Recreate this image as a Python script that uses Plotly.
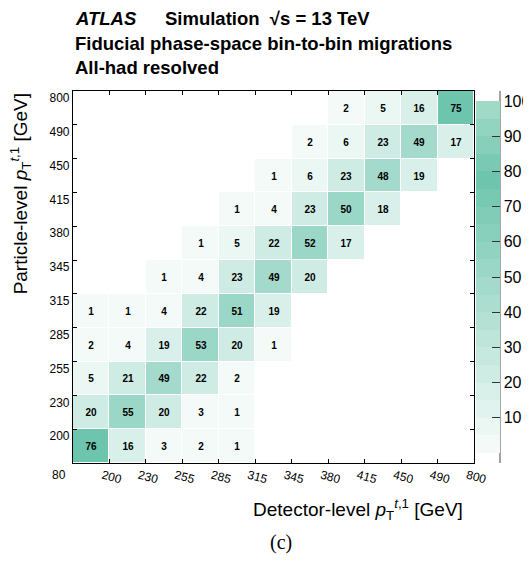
import plotly.graph_objects as go

# bin edges (shown as tick labels), uniform display bins
edge_labels = ["80", "200", "230", "255", "285", "315", "345", "380", "415", "450", "490", "800"]
n_bins = len(edge_labels) - 1

# migration matrix [%]: rows = particle-level bin (bottom to top), cols = detector-level bin
row0 = [76, 16, 3, 2, 1, None, None, None, None, None, None]
row1 = [20, 55, 20, 3, 1, None, None, None, None, None, None]
row2 = [5, 21, 49, 22, 2, None, None, None, None, None, None]
row3 = [2, 4, 19, 53, 20, 1, None, None, None, None, None]
row4 = [1, 1, 4, 22, 51, 19, None, None, None, None, None]
row5 = [None, None, 1, 4, 23, 49, 20, None, None, None, None]
row6 = [None, None, None, 1, 5, 22, 52, 17, None, None, None]
row7 = [None, None, None, None, 1, 4, 23, 50, 18, None, None]
row8 = [None, None, None, None, None, 1, 6, 23, 48, 19, None]
row9 = [None, None, None, None, None, None, 2, 6, 23, 49, 17]
row10 = [None, None, None, None, None, None, None, 2, 5, 16, 75]
z = [row0, row1, row2, row3, row4, row5, row6, row7, row8, row9, row10]

colorbar_ticks = [10, 20, 30, 40, 50, 60, 70, 80, 90, 100]

# discrete palette: 20 bands of 5 %
band_colors = [
    "#f3faf8", "#eaf7f3", "#e1f3ee", "#d8f0e9", "#cfece4",
    "#c6e8df", "#bee5da", "#b5e1d5", "#acded0", "#a3dacb",
    "#9ad7c6", "#91d3c1", "#89d0bc", "#80ccb7", "#77c9b2",
    "#6ec5ad", "#7acab3", "#87cfb9", "#93d4c0", "#a0d9c6",
]
colorscale = []
nb = len(band_colors)
for i, c in enumerate(band_colors):
    colorscale.append([i / nb, c])
    colorscale.append([(i + 1) / nb, c])

xs = list(range(n_bins))
ys = list(range(n_bins))
text = [["" if v is None else str(v) for v in r] for r in z]

fig = go.Figure()
fig.add_trace(go.Heatmap(
    x=xs, y=ys, z=z, text=text, texttemplate="%{text}",
    textfont=dict(family="Liberation Sans", size=10, color="black", weight=700),
    colorscale=colorscale, zmin=0, zmax=100, xgap=1, ygap=1,
    hoverongaps=False,
    colorbar=dict(
        x=1.005, xanchor="left", xpad=0, y=0.5, yanchor="middle", len=1, lenmode="fraction",
        thickness=24, thicknessmode="pixels", outlinewidth=0,
        tickvals=colorbar_ticks, ticktext=[str(t) for t in colorbar_ticks],
        ticks="inside", ticklen=8, tickcolor="#333333", tickwidth=1.2,
        tickfont=dict(family="Liberation Sans", size=16, color="black"),
    ),
))

edge_pos = [i - 0.5 for i in range(n_bins + 1)]

fig.update_xaxes(
    range=[-0.5, n_bins - 0.5], tickvals=edge_pos[1:], ticktext=edge_labels[1:],
    tickangle=15, ticks="inside", ticklen=4, tickcolor="black",
    showline=True, linecolor="black", linewidth=1.2, mirror="ticks",
    showgrid=False, zeroline=False, ticklabelshift=-7,
    tickfont=dict(family="Liberation Sans", size=12, color="black"),
)
fig.update_yaxes(
    range=[-0.5, n_bins - 0.5], tickvals=edge_pos[1:], ticktext=edge_labels[1:],
    ticks="inside", ticklen=4, tickcolor="black",
    showline=True, linecolor="black", linewidth=1.2, mirror="ticks",
    showgrid=False, zeroline=False, ticklabelshift=7,
    tickfont=dict(family="Liberation Sans", size=12, color="black"),
)

title_font = dict(family="Liberation Sans", size=18.5, color="black")
ann = [
    dict(text="<b><i>ATLAS</i></b>", x=0, y=1.195, xanchor="left", yanchor="middle", font=title_font),
    dict(text="<b>Simulation  √s = 13 TeV</b>", x=0.2244, y=1.195, xanchor="left", yanchor="middle",
         font=title_font),
    dict(text="<b>Fiducial phase-space bin-to-bin migrations</b>", x=0, y=1.127, xanchor="left",
         yanchor="middle", font=title_font),
    dict(text="<b>All-had resolved</b>", x=0, y=1.062, xanchor="left", yanchor="middle", font=title_font),
    dict(text="Detector-level <i>p</i><sub>T</sub><sup><i>t</i>,1</sup> [GeV]", x=0.978, y=-0.125,
         xanchor="right", yanchor="middle", font=dict(family="Liberation Sans", size=19, color="black")),
    dict(text="Particle-level <i>p</i><sub>T</sub><sup><i>t</i>,1</sup> [GeV]", x=-0.13, y=1.0,
         xanchor="center", yanchor="top", textangle=-90,
         font=dict(family="Liberation Sans", size=19, color="black")),
    dict(text="(c)", x=0.519, y=-0.215, xanchor="center", yanchor="middle",
         font=dict(family="Liberation Serif", size=20, color="black")),
    dict(text=edge_labels[0], x=-0.035, y=-0.033, xanchor="center", yanchor="middle",
         font=dict(family="Liberation Sans", size=12, color="black")),
]
for a in ann:
    a.update(xref="paper", yref="paper", showarrow=False)

fig.update_layout(
    width=523, height=558,
    margin=dict(l=65, r=57, t=83, b=103, autoexpand=False),
    plot_bgcolor="white", paper_bgcolor="white",
    annotations=ann,
    shapes=[dict(type="line", xref="paper", yref="paper", x0=1.0648, x1=1.0648, y0=0, y1=1,
                 line=dict(color="#666666", width=1.2))],
)

fig.write_html("out.html")
